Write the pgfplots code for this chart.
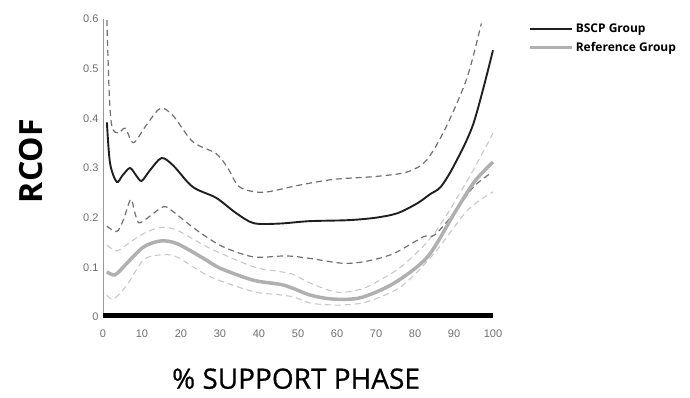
\documentclass[border=0pt]{standalone}
\usepackage{fontspec}
\setmainfont{Open Sans}
\newfontfamily\tickfont{Liberation Sans}
\newfontfamily\labfont[FakeBold=0.6]{Open Sans}
\usepackage{pgfplots}
\pgfplotsset{compat=1.18}
\definecolor{bscpdash}{HTML}{707070}
\definecolor{refmean}{HTML}{B0B0B0}
\definecolor{refdash}{HTML}{C8C8C8}
\definecolor{ticktxt}{HTML}{6E6E6E}
\begin{document}
\begin{tikzpicture}
\useasboundingbox (-103pt,-81pt) rectangle (587pt,317pt);
\begin{axis}[
  at={(0,0)}, anchor=south west,
  scale only axis, width=390pt, height=298pt,
  xmin=0, xmax=100, ymin=0, ymax=0.6,
  axis lines=left,
  axis line style={-},
  x axis line style={draw=none},
  y axis line style={draw=gray!80, line width=0.8pt},
  major tick length=0pt,
  xtick={0,10,...,100},
  ytick={0,0.1,...,0.6},
  yticklabels={0,0.1,0.2,0.3,0.4,0.5,0.6},
  /pgf/number format/assume math mode=true,
  ticklabel style={font=\tickfont\fontsize{11}{13}\selectfont, text=ticktxt},
  xticklabel style={yshift=-9pt},
  yticklabel style={xshift=-1pt},
  xlabel={\labfont\% SUPPORT PHASE},
  ylabel={\bfseries RCOF},
  xlabel style={at={(axis description cs:0.495,-0.207)}, anchor=center, inner sep=0pt, font=\fontsize{28}{30}\selectfont},
  ylabel style={at={(axis description cs:-0.185,0.523)}, anchor=center, rotate=0, font=\fontsize{32}{36}\selectfont},
  clip=false,
  legend style={at={(axis description cs:1.09,0.99)}, anchor=north west, draw=none, fill=none,
    font=\bfseries\fontsize{12}{14}\selectfont, row sep=4pt, inner sep=0pt},
  legend cell align=left,
  legend image code/.code={\draw[#1] (0pt,0pt) -- (35pt,0pt); \path (0pt,0pt) -- (42pt,0pt);},
]
% Reference group
\addplot[refdash, line width=1.1pt, dash pattern=on 6pt off 4pt, smooth, forget plot] coordinates {
(1,0.145)(3.5,0.133)(6.5,0.148)(10.4,0.168)(14.7,0.18)(18.9,0.175)(27.5,0.138)(38.6,0.101)(45,0.092)(49,0.085)(53.2,0.068)(59.2,0.051)(63,0.051)(67.8,0.061)(76.4,0.101)(84.9,0.168)(93.5,0.276)(100,0.37)};
\addplot[refdash, line width=1.1pt, dash pattern=on 6pt off 4pt, smooth, forget plot] coordinates {
(1,0.044)(2.7,0.036)(6.1,0.064)(10.4,0.115)(14.7,0.125)(18.9,0.121)(27.5,0.081)(38.6,0.051)(45,0.045)(49,0.04)(53.2,0.028)(59.2,0.024)(63,0.025)(67.8,0.031)(76.4,0.061)(84.9,0.128)(93.5,0.215)(100,0.252)};
% BSCP group dashed
\addplot[bscpdash, line width=1.2pt, dash pattern=on 6pt off 4pt, smooth, forget plot] coordinates {
(1,0.598)(1.6,0.45)(2.3,0.383)(3.9,0.37)(5.7,0.38)(7.8,0.351)(11,0.385)(14.7,0.42)(18,0.405)(23,0.353)(29,0.329)(32,0.3)(35,0.262)(41,0.251)(50,0.265)(59,0.277)(70,0.283)(78,0.292)(83,0.316)(88,0.383)(93.4,0.483)(97,0.591)};
\addplot[bscpdash, line width=1.2pt, dash pattern=on 6pt off 4pt, smooth, forget plot] coordinates {
(1,0.183)(3.5,0.172)(5.2,0.195)(7.1,0.237)(8.1,0.212)(9.1,0.19)(11,0.197)(15.5,0.222)(18,0.212)(21.5,0.19)(25.8,0.165)(30.9,0.141)(38.6,0.121)(47,0.123)(53,0.118)(61.8,0.108)(68,0.113)(74.6,0.128)(82.3,0.162)(85,0.165)(90,0.209)(95,0.262)(99.5,0.29)};
% means
\addplot[black!88, line width=1.9pt, smooth] coordinates {
(1,0.392)(1.8,0.31)(3.5,0.272)(5,0.285)(6.9,0.30)(8.5,0.285)(9.9,0.274)(12,0.295)(15,0.32)(18,0.305)(23,0.262)(29,0.24)(34,0.21)(38.6,0.189)(45,0.188)(53,0.193)(63,0.195)(70,0.2)(75.5,0.209)(80.6,0.229)(84,0.248)(86.6,0.262)(90,0.305)(95,0.39)(100,0.537)};
\addlegendentry{BSCP Group}
\addplot[refmean, line width=3.5pt, smooth] coordinates {
(1,0.091)(3.1,0.085)(6.1,0.108)(10.4,0.141)(14.7,0.153)(18.9,0.148)(25.8,0.118)(30.1,0.098)(38.6,0.074)(46.4,0.064)(53.2,0.044)(59.2,0.036)(66.1,0.039)(74.6,0.068)(83.2,0.121)(90.1,0.209)(95.2,0.272)(100,0.312)};
\addlegendentry{Reference Group}
% support phase bar
\addplot[black, line width=5pt, forget plot] coordinates {(0,0.004)(100,0.004)};
\end{axis}
\end{tikzpicture}
\end{document}
